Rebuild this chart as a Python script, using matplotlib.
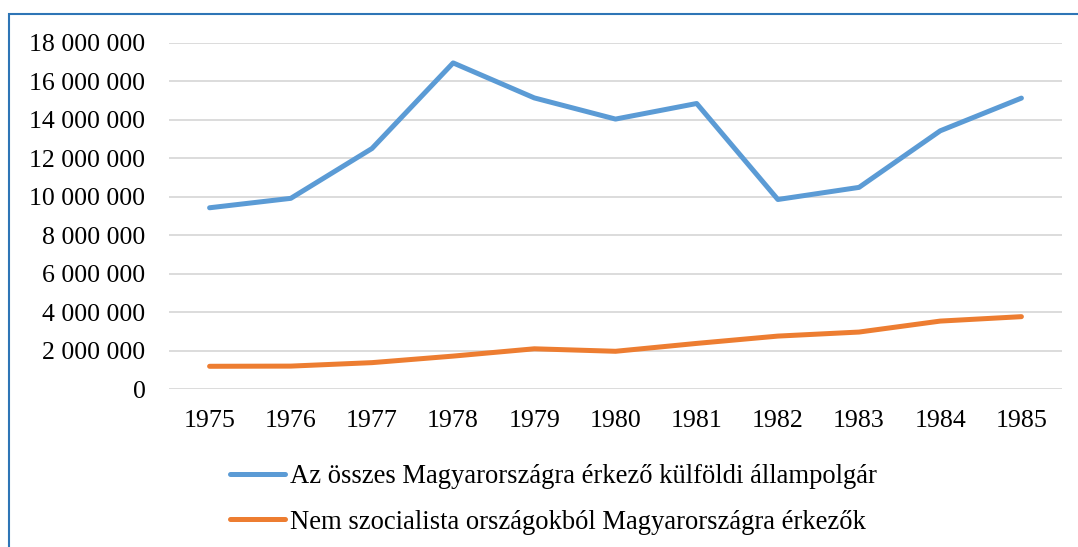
import matplotlib.pyplot as plt
import matplotlib.patches as mpatches
from matplotlib.ticker import FuncFormatter

plt.rcParams['font.family'] = ['Liberation Serif', 'DejaVu Serif']

# Data
years = ['1975', '1976', '1977', '1978', '1979', '1980',
         '1981', '1982', '1983', '1984', '1985']
osszes = [9420000, 9910000, 12500000, 16950000, 15130000, 14030000,
          14840000, 9850000, 10480000, 13420000, 15120000]
nem_szoc = [1180000, 1190000, 1370000, 1710000, 2090000, 1960000,
            2370000, 2750000, 2960000, 3530000, 3760000]
label_osszes = 'Az összes Magyarországra érkező külföldi állampolgár'
label_nem_szoc = 'Nem szocialista országokból Magyarországra érkezők'

fig = plt.figure(figsize=(10.78, 5.47), dpi=100)
ax = fig.add_axes([169/1078, 1 - 389/547, (1062-169)/1078, (389-42.7)/547])

x = range(len(years))
l1, = ax.plot(x, osszes, color='#5B9BD5', linewidth=3.6, solid_capstyle='round',
              solid_joinstyle='round', label=label_osszes)
l2, = ax.plot(x, nem_szoc, color='#ED7D31', linewidth=3.6, solid_capstyle='round',
              solid_joinstyle='round', label=label_nem_szoc)

ax.set_xlim(-0.5, len(years) - 0.5)
ax.set_ylim(0, 18000000)
ax.set_yticks(range(0, 18000001, 2000000))
ax.yaxis.set_major_formatter(FuncFormatter(lambda v, p: f'{int(v):,}'.replace(',', ' ')))
ax.set_xticks(list(x))
ax.set_xticklabels(years)

ax.grid(axis='y', color='#D9D9D9', linewidth=1.3)
ax.set_axisbelow(True)
for s in ax.spines.values():
    s.set_visible(False)
ax.tick_params(axis='both', length=0, labelsize=18.6, colors='black')
ax.tick_params(axis='y', pad=17)
ax.tick_params(axis='x', pad=15)

# Legend under the plot
fig.legend(handles=[l1, l2], loc='upper left', bbox_to_anchor=(230/1078, 1 - 464/547),
           frameon=False, fontsize=19.2, handlelength=2.05, handletextpad=0.2,
           labelspacing=0.78, borderpad=0, borderaxespad=0)

# Blue outer frame
fig.patches.append(mpatches.Rectangle((9/1078, -0.1), 1.2, 1 - 14/547 + 0.1,
                                      transform=fig.transFigure, fill=False,
                                      edgecolor='#2E75B6', linewidth=1.5))

fig.savefig('out.png', dpi=100)
